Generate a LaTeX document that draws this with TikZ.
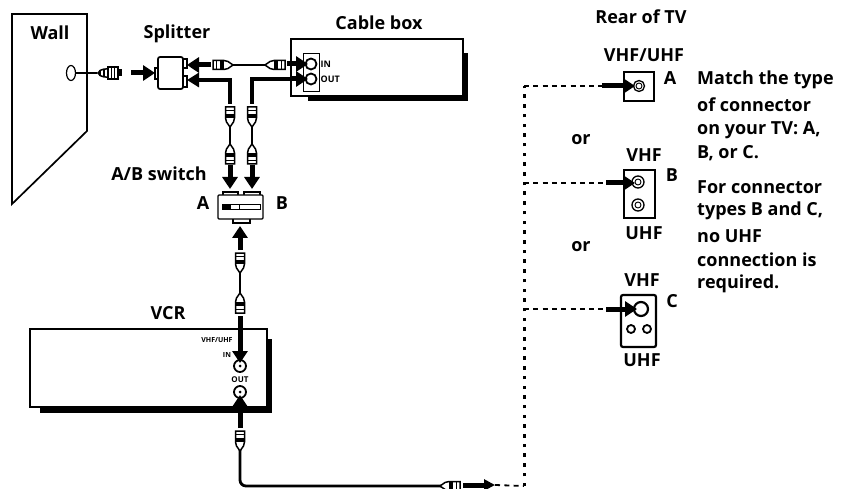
\documentclass[tikz,border=0pt]{standalone}
\usepackage{fontspec}
\setmainfont{Open Sans}
\usetikzlibrary{arrows.meta,shapes.geometric}
\tikzset{
  x=1pt,y=-1pt,
  lbl/.style={font=\bfseries\fontsize{18}{20}\selectfont,inner sep=0pt,text=black},
  tinylbl/.style={font=\bfseries\fontsize{8}{9}\selectfont,inner sep=0pt,text=black},
  note/.style={lbl,anchor=west},
  outline/.style={draw=black,line width=1.7pt,fill=white},
  jack/.style={circle,draw=black,line width=1.8pt,fill=white,inner sep=0pt},
  cable/.style={line width=2.8pt,draw=black},
  thick cable/.style={line width=4.6pt,draw=black},
  push/.style={line width=5pt,draw=black,-{Triangle[length=12pt,width=15pt]}},
  dash run/.style={line width=1.8pt,draw=black,dash pattern=on 5pt off 4.3pt},
  dot run/.style={line width=3pt,draw=black,dash pattern=on 3.5pt off 6.2pt},
  plug/.pic={
    \draw[black,line width=1.5pt,fill=white] (-4.5,0) -- (4.5,0) -- (4.5,11) -- (3.5,15) -- (0,20) -- (-3.5,15) -- (-4.5,11) -- cycle;
    \fill[black] (-4.5,7) rectangle (4.5,11);
    \draw[black,line width=1.3pt] (-4.5,3.5) -- (4.5,3.5);
  },
  nutplug/.pic={
    \draw[black,line width=1.5pt,fill=white] (0,-1) .. controls (-5,-3) and (-4,-11) .. (-4,-11) -- (4,-11) .. controls (4,-11) and (5,-3) .. (0,-1) -- cycle;
    \draw[black,line width=1.5pt,fill=white] (-6,-11) rectangle (6,-21);
    \draw[black,line width=1.3pt] (-6,-14.5) -- (6,-14.5) (-6,-17.5) -- (6,-17.5);
    \draw[black,line width=1.3pt] (-3,-3) -- (3,-3) (-4,-7) -- (4,-7);
    \fill[black] (-3.5,-21) rectangle (3.5,-25);
  }
}
\begin{document}
\begin{tikzpicture}
\useasboundingbox (0,0) rectangle (854,489);
\fill[white] (0,0) rectangle (854,489);
% wall
\draw[outline,fill=none,line join=miter] (12,14) -- (87,14) -- (87,131) -- (12,204) -- cycle;
\node[lbl] (wallT) at (50,33) {Wall};
\node[draw=black,line width=1.2pt,ellipse,minimum width=9pt,minimum height=15pt,inner sep=0pt,fill=white] (hole) at (71,73) {};
\coordinate (wallPlugEnd) at (97,73);
\draw[cable] (hole.east) -- (wallPlugEnd);
\pic[rotate=-90] at (97,73) {nutplug};
% splitter
\draw[outline] (155,68) rectangle (160,79);
\draw[outline] (181,59) rectangle (187,68);
\draw[outline] (181,76) rectangle (187,87);
\node[outline,rounded corners=2pt,minimum width=25pt,minimum height=32pt,inner sep=0pt] (splitter) at (170.5,73) {};
\node[lbl] (splitT) at (177,34) {Splitter};
\coordinate (wallArrow) at (131,73);
\draw[push] (wallArrow) -- (155,73);
% cable box
\fill[black] (308,96) rectangle (468,101);
\fill[black] (463,53) rectangle (468,101);
\draw[outline] (291,39) rectangle (463,96);
\draw[line width=1pt,fill=white] (303,54) rectangle (319,92);
\node[jack,minimum size=11pt] (in) at (311,64) {};
\node[jack,minimum size=11pt] (out) at (311,79) {};
\node[tinylbl,anchor=west,font=\bfseries\fontsize{9}{10}\selectfont] (inT) at (320.5,64) {IN};
\node[tinylbl,anchor=west,font=\bfseries\fontsize{9}{10}\selectfont] (outT) at (320.5,79) {OUT};
\node[lbl] (boxT) at (379,23) {Cable box};
% upper cable
\coordinate (spUp) at (187,65);
\coordinate (spLo) at (187,80);
\coordinate (upL) at (213,65);
\coordinate (upR) at (285,65);
\draw[cable] (upL) -- (upR);
\pic[rotate=90] at (213,65) {plug};
\pic[rotate=-90] at (285,65) {plug};
\draw[push] (211,65) -- (spUp);
\draw[push] (287,64) -- (308,64);
% lower cables
\coordinate (dropA) at (230,104);
\coordinate (dropB) at (252,104);
\draw[thick cable,-{Triangle[length=12pt,width=14pt]}] (dropA) -- (230,80) -- (spLo);
\draw[thick cable,line join=miter] (dropB) -- (252,79) -- (298,79);
\draw[push] (290,79) -- (308,79);
% A/B switch
\draw[outline,line width=1.2pt] (223,192) rectangle (238,198);
\draw[outline,line width=1.2pt] (244,192) rectangle (260,198);
\draw[outline,line width=1.2pt] (233,216) rectangle (250,223);
\node[draw=black,line width=1.4pt,fill=white,rounded corners=1pt,minimum width=45pt,minimum height=24pt,inner sep=0pt] (switch) at (240.5,207) {};
\draw[black,line width=1pt,fill=white] (222,205) rectangle (260,210);
\fill[black] (222,205) rectangle (231,210);
\draw[black,line width=1pt] (239,205) -- (239,210);
\node[lbl] (swT) at (159,174) {A/B switch};
\node[lbl] (swA) at (203,203) {A};
\node[lbl] (swB) at (282,203) {B};
% plugs to switch
\coordinate (swInA) at (230,189);
\coordinate (swInB) at (252,189);
\coordinate (swInV) at (240,226);
\draw[cable] (230,107) -- (230,163);
\draw[cable] (252,107) -- (252,163);
\pic at (230,107) {plug};
\pic at (252,107) {plug};
\pic[rotate=180] at (230,164) {plug};
\pic[rotate=180] at (252,164) {plug};
\draw[push] (230,165) -- (swInA);
\draw[push] (252,165) -- (swInB);
% VCR
\fill[black] (40,407) rectangle (272,413);
\fill[black] (267,339) rectangle (272,413);
\draw[outline] (30,329) rectangle (267,407);
\node[jack,minimum size=12pt] (vcrIn) at (240,366) {};
\node[jack,minimum size=12pt] (vcrOut) at (240,392) {};
\fill[black] (240,366) circle (1.5pt);
\fill[black] (240,392) circle (1.5pt);
\node[lbl] (vcrT) at (168,313) {VCR};
\node[tinylbl,font=\bfseries\fontsize{7}{8}\selectfont] (vuT) at (217,340) {VHF/UHF};
\node[tinylbl,font=\bfseries\fontsize{7}{8}\selectfont] (inT2) at (227,355) {IN};
\node[tinylbl] (outT2) at (240,380) {OUT};
% switch to VCR
\draw[cable] (240,253) -- (240,313);
\pic at (240,253) {plug};
\pic[rotate=180] at (240,313) {plug};
\draw[push] (240,250) -- (swInV);
\draw[push] (240,316) -- (240,363);
\draw[push] (240,428) -- (240,395);
% bottom run
\coordinate (corner) at (240,486);
\coordinate (run) at (460,486);
\draw[cable,rounded corners=6pt] (240,445) -- (corner) -- (run);
\pic at (240,431) {plug};
\pic[rotate=-90] at (460,486) {plug};
\coordinate (runArrow) at (463,485);
\coordinate (runEnd) at (495,485);
\draw[push,-{Triangle[length=11pt,width=11pt]}] (runArrow) -- (runEnd);
% dashes
\coordinate (busBottom) at (524,486);
\coordinate (busTop) at (524,86);
\coordinate (busB) at (524,183);
\coordinate (busC) at (524,309);
\draw[dash run] (runEnd) -- (busBottom);
\draw[dot run] (busBottom) -- (busTop);
% TV
\node[lbl] (rear) at (641,17) {Rear of TV};
\node[lbl] (vu) at (644,55) {VHF/UHF};
\node[lbl] (aT) at (670,78) {A};
\node[draw=black,line width=1.5pt,fill=white,minimum width=30pt,minimum height=29pt,inner sep=0pt] (tvA) at (639,86.5) {};
\node[jack,minimum size=11pt,line width=1.3pt] (jA) at (639,86) {};
\node[jack,minimum size=6pt,line width=.9pt] at (639,86) {};
\node[lbl] (or1) at (581,140) {or};
\node[lbl] (vB) at (644,155) {VHF};
\node[lbl] (bT) at (672,175) {B};
\node[draw=black,line width=1.5pt,fill=white,minimum width=31pt,minimum height=48pt,inner sep=0pt] (tvB) at (639.5,194) {};
\node[jack,minimum size=12pt,line width=1.3pt] (jB1) at (638,182) {};
\node[jack,minimum size=12pt,line width=1.3pt] (jB2) at (638,205) {};
\node[jack,minimum size=6pt,line width=.9pt] at (638,182) {};
\node[jack,minimum size=6pt,line width=.9pt] at (638,205) {};
\node[lbl] (uB) at (644,233) {UHF};
\node[lbl] (or2) at (581,247) {or};
\node[lbl] (vC) at (642,280) {VHF};
\node[lbl] (cT) at (672,301) {C};
\node[draw=black,line width=2.2pt,fill=white,rounded corners=2pt,minimum width=35pt,minimum height=52pt,inner sep=0pt] (tvC) at (638.5,321) {};
\node[jack,minimum size=14pt,line width=2.2pt] (jC) at (641,309) {};
\node[jack,minimum size=8pt,line width=1.8pt] (jC1) at (631,329) {};
\node[jack,minimum size=8pt,line width=1.8pt] (jC2) at (647,329) {};
\node[lbl] (uC) at (642,360) {UHF};
\draw[dash run] (busTop) -- (602,86);
\draw[dash run] (busB) -- (606,183);
\draw[dash run] (busC) -- (606,309);
\draw[push] (602,86) -- (635,86);
\draw[push] (606,183) -- (635,183);
\draw[push] (606,309) -- (637,309);
% notes
\node[note] (n1) at (697,80) {Match the type};
\node[note] (n2) at (697,105) {of connector};
\node[note] (n3) at (697,130) {on your TV: A,};
\node[note] (n4) at (697,153) {B, or C.};
\node[note] (n5) at (697,187) {For connector};
\node[note] (n6) at (697,211) {types B and C,};
\node[note] (n7) at (697,236) {no UHF};
\node[note] (n8) at (697,260) {connection is};
\node[note] (n9) at (697,284) {required.};
\end{tikzpicture}
\end{document}
